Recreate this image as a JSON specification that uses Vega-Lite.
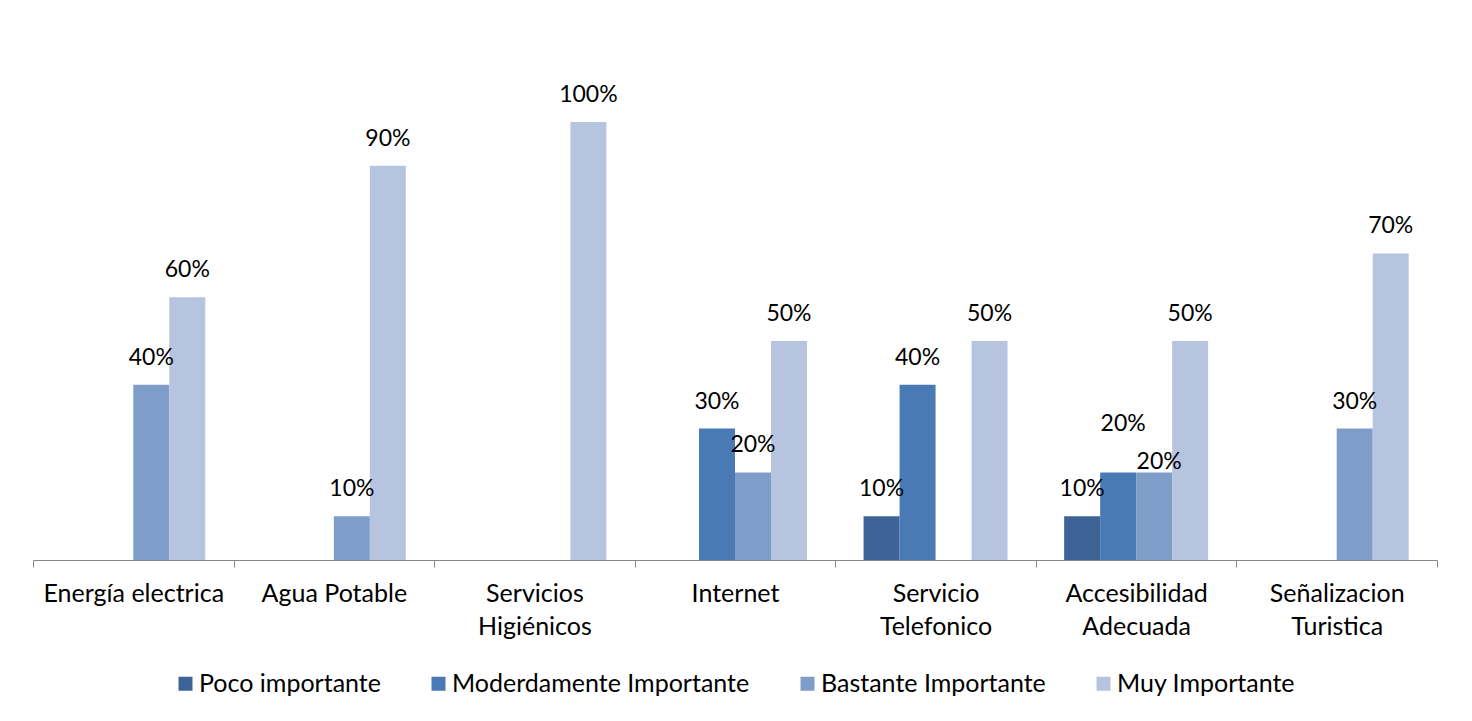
{
  "$schema": "https://vega.github.io/schema/vega-lite/v6.json",
  "width": 1404,
  "height": 438,
  "autosize": {"type": "none"},
  "padding": {"left": 33, "top": 122, "right": 35, "bottom": 161},
  "background": "white",
  "config": {"view": {"stroke": null}, "font": "Lato"},
  "data": {
    "values": [
      {"servicio": "Energía electrica", "nivel": "Bastante Importante", "valor": 0.4},
      {"servicio": "Energía electrica", "nivel": "Muy Importante", "valor": 0.6},
      {"servicio": "Agua Potable", "nivel": "Bastante Importante", "valor": 0.1},
      {"servicio": "Agua Potable", "nivel": "Muy Importante", "valor": 0.9},
      {"servicio": "Servicios Higiénicos", "nivel": "Muy Importante", "valor": 1.0},
      {"servicio": "Internet", "nivel": "Moderdamente Importante", "valor": 0.3},
      {"servicio": "Internet", "nivel": "Bastante Importante", "valor": 0.2},
      {"servicio": "Internet", "nivel": "Muy Importante", "valor": 0.5},
      {"servicio": "Servicio Telefonico", "nivel": "Poco importante", "valor": 0.1},
      {"servicio": "Servicio Telefonico", "nivel": "Moderdamente Importante", "valor": 0.4},
      {"servicio": "Servicio Telefonico", "nivel": "Muy Importante", "valor": 0.5},
      {"servicio": "Accesibilidad Adecuada", "nivel": "Poco importante", "valor": 0.1},
      {"servicio": "Accesibilidad Adecuada", "nivel": "Moderdamente Importante", "valor": 0.2},
      {"servicio": "Accesibilidad Adecuada", "nivel": "Bastante Importante", "valor": 0.2},
      {"servicio": "Accesibilidad Adecuada", "nivel": "Muy Importante", "valor": 0.5},
      {"servicio": "Señalizacion Turistica", "nivel": "Bastante Importante", "valor": 0.3},
      {"servicio": "Señalizacion Turistica", "nivel": "Muy Importante", "valor": 0.7}
    ]
  },
  "encoding": {
    "x": {
      "field": "servicio",
      "type": "nominal",
      "sort": ["Energía electrica", "Agua Potable", "Servicios Higiénicos", "Internet", "Servicio Telefonico", "Accesibilidad Adecuada", "Señalizacion Turistica"],
      "scale": {"paddingInner": 0, "paddingOuter": 0},
      "axis": {
        "title": null,
        "labelAngle": 0,
        "labelFontSize": 25,
        "labelColor": "#000000",
        "labelPadding": 14,
        "labelLineHeight": 33,
        "labelLimit": 400,
        "labelExpr": "indexof(['Servicios Higiénicos','Servicio Telefonico','Accesibilidad Adecuada','Señalizacion Turistica'], datum.label) >= 0 ? split(datum.label, ' ') : datum.label",
        "tickBand": "extent",
        "tickSize": 7,
        "tickColor": "#868686",
        "domainColor": "#868686",
        "grid": false
      }
    },
    "xOffset": {
      "field": "nivel",
      "type": "nominal",
      "scale": {"domain": ["Poco importante", "Moderdamente Importante", "Bastante Importante", "Muy Importante"], "paddingInner": 0, "paddingOuter": 0.786}
    },
    "y": {"field": "valor", "type": "quantitative", "scale": {"domain": [0, 1]}, "axis": null}
  },
  "layer": [
    {
      "mark": {"type": "bar"},
      "encoding": {
        "color": {
          "field": "nivel",
          "type": "nominal",
          "scale": {
            "domain": ["Poco importante", "Moderdamente Importante", "Bastante Importante", "Muy Importante"],
            "range": ["#3E6497", "#4A7AB5", "#7F9DC9", "#B6C4DF"]
          },
          "legend": {
            "title": null,
            "orient": "none",
            "legendX": 140,
            "legendY": 549,
            "direction": "horizontal",
            "symbolType": "square",
            "symbolSize": 196,
            "symbolStrokeWidth": 0,
            "labelFontSize": 25,
            "labelColor": "#000000",
            "labelOffset": 1,
            "columnPadding": 45,
            "padding": 0,
            "labelLimit": 400
          }
        }
      }
    },
    {
      "transform": [{"filter": "!(datum.servicio == 'Accesibilidad Adecuada' && (datum.nivel == 'Moderdamente Importante' || datum.nivel == 'Bastante Importante'))"}],
      "mark": {"type": "text", "baseline": "middle", "dy": -27, "fontSize": 23, "color": "#000000"},
      "encoding": {"text": {"field": "valor", "type": "quantitative", "format": ".0%"}}
    },
    {
      "transform": [{"filter": "datum.servicio == 'Accesibilidad Adecuada' && datum.nivel == 'Moderdamente Importante'"}],
      "mark": {"type": "text", "baseline": "middle", "dy": -48, "dx": 5, "fontSize": 23, "color": "#000000"},
      "encoding": {"text": {"field": "valor", "type": "quantitative", "format": ".0%"}}
    },
    {
      "transform": [{"filter": "datum.servicio == 'Accesibilidad Adecuada' && datum.nivel == 'Bastante Importante'"}],
      "mark": {"type": "text", "baseline": "middle", "dy": -10, "dx": 5, "fontSize": 23, "color": "#000000"},
      "encoding": {"text": {"field": "valor", "type": "quantitative", "format": ".0%"}}
    }
  ]
}
